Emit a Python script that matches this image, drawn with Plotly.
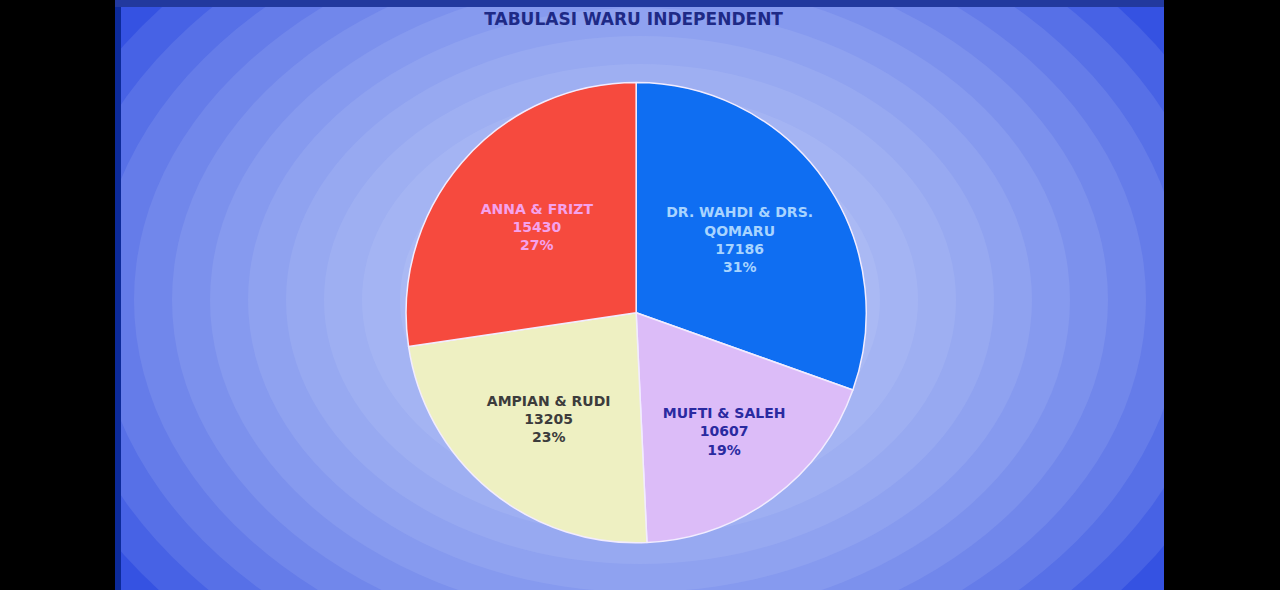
import plotly.graph_objects as go

# Tabulasi Waru Independent - vote counts per pair
candidates = ["DR. WAHDI & DRS.<br>QOMARU", "MUFTI & SALEH", "AMPIAN & RUDI", "ANNA & FRIZT"]
votes = [17186, 10607, 13205, 15430]
pct_labels = ["31%", "19%", "23%", "27%"]  # as printed on the slide

slice_colors = ["#0f6ef2", "#dcbcf8", "#eef0c2", "#f64a3e"]
text_colors = ["#a8d4ff", "#2a2aa0", "#3c3c3c", "#f4a2ec"]

fig = go.Figure()

fig.add_trace(go.Pie(
    labels=candidates,
    values=votes,
    customdata=pct_labels,
    sort=False,
    direction="clockwise",
    rotation=0,
    texttemplate="%{label}<br>%{value:.0f}<br>%{customdata}",
    textposition="inside",
    insidetextorientation="horizontal",
    textfont=dict(family="DejaVu Sans", size=14, color=text_colors, weight="bold"),
    marker=dict(colors=slice_colors, line=dict(color="#f2ecff", width=1.5)),
    domain=dict(x=[0.2, 0.794], y=[0.08, 0.86]),
    showlegend=False,
    hoverinfo="label+value",
))

# screen area (blue) between black borders, lighter towards the middle
shapes = [dict(type="rect", xref="paper", yref="paper", x0=115/1280, x1=1164/1280,
               y0=0, y1=1, fillcolor="#3552e2", line_width=0, layer="below")]
for k in range(11):
    rx = 620 - k * 38
    ry = 460 - k * 28
    shapes.append(dict(type="circle", xref="paper", yref="paper",
                       x0=(640 - rx)/1280, x1=(640 + rx)/1280,
                       y0=(290 - ry)/590, y1=(290 + ry)/590,
                       fillcolor="#dfe4ff", opacity=0.11, line_width=0, layer="below"))
# dark edges of the monitor frame
shapes.append(dict(type="rect", xref="paper", yref="paper", x0=115/1280, x1=121/1280,
                   y0=0, y1=1, fillcolor="#0c2a9a", line_width=0, layer="below"))
shapes.append(dict(type="rect", xref="paper", yref="paper", x0=115/1280, x1=1164/1280,
                   y0=1 - 7/590, y1=1, fillcolor="#22399e", line_width=0, layer="below"))
# black sides of the photo
for x0, x1 in [(0, 115), (1164, 1280)]:
    shapes.append(dict(type="rect", xref="paper", yref="paper", x0=x0/1280, x1=x1/1280,
                       y0=0, y1=1, fillcolor="black", line_width=0, layer="below"))

fig.update_layout(
    width=1280, height=590,
    margin=dict(l=0, r=0, t=0, b=0),
    paper_bgcolor="black",
    plot_bgcolor="black",
    shapes=shapes,
    title=dict(text="TABULASI WARU INDEPENDENT", x=0.495, xanchor="center",
               y=0.968, yanchor="middle",
               font=dict(family="DejaVu Sans", size=17, color="#1e2a86", weight="bold")),
)

fig.write_html("out.html", config={"displayModeBar": False},
               post_script="document.body.style.margin='0';")
